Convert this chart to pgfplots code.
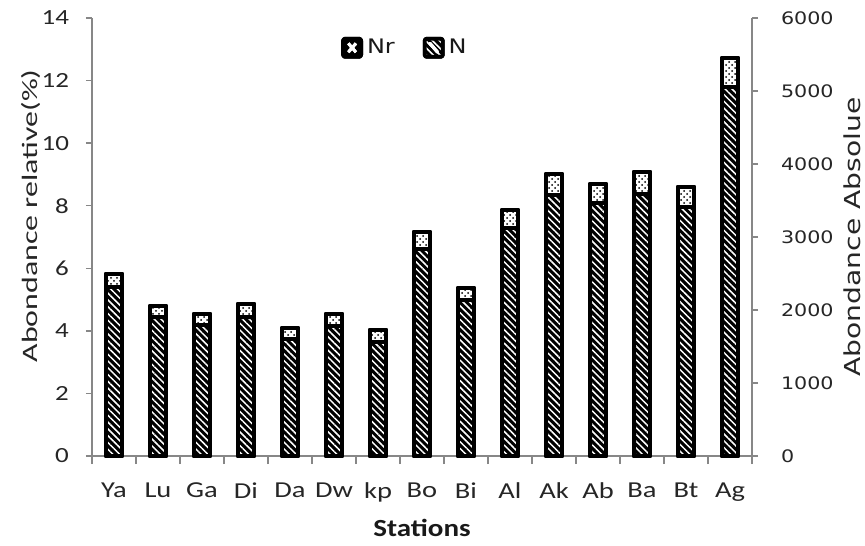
\documentclass[border=0pt]{standalone}
\usepackage{pgfplots}
\usepackage{pgfplotstable}
\pgfplotsset{compat=1.18}
\usetikzlibrary{patterns,patterns.meta}
\usepackage{fontspec}
\setmainfont{Carlito}
\newfontfamily\tickfont{Carlito}[FakeStretch=1.25]
\newfontfamily\rfont{DejaVu Sans}[FakeStretch=1.2]
\newfontfamily\lfont{Carlito}[FakeStretch=1.45]
\newfontfamily\rlfont{DejaVu Sans}[FakeStretch=1.28]
\newfontfamily\bfont{Carlito}[FakeStretch=1.18]
\definecolor{axgray}{RGB}{135,135,135}

\pgfplotstableread{
x N Nr
0 5.40 0.42
1 4.44 0.35
2 4.19 0.35
3 4.44 0.42
4 3.74 0.35
5 4.15 0.39
6 3.64 0.39
7 6.62 0.54
8 4.99 0.38
9 7.29 0.57
10 8.34 0.67
11 8.09 0.60
12 8.37 0.71
13 7.96 0.64
14 11.79 0.93
}\data

\begin{document}
\begin{tikzpicture}
\begin{axis}[
  scale only axis, width=330pt, height=219pt,
  xmin=-0.5, xmax=14.5, ymin=0, ymax=14,
  clip=false,
  axis y line*=left, axis x line*=bottom,
  axis line style={axgray, line width=0.7pt},
  every tick/.style={axgray, line width=0.7pt},
  tick align=outside,
  major tick length=3pt, minor tick length=4pt,
  ybar stacked, bar width=8.3pt,
  xtick={0,...,14},
  xticklabels={Ya,Lu,Ga,Di,Da,Dw,kp,Bo,Bi,Al,Ak,Ab,Ba,Bt,Ag},
  major x tick style={draw=none},
  minor xtick={-0.5,0.5,...,14.5},
  ytick={0,2,...,14},
  /pgf/number format/assume math mode=true,
  xticklabel style={font=\tickfont\fontsize{11.4}{13}\selectfont, text=black!85, yshift=-7pt},
  yticklabel style={font=\tickfont\fontsize{10.8}{12}\selectfont, text=black!85, xshift=-5pt},
  legend style={at={(rel axis cs:0.377,0.932)}, anchor=west, inner sep=0pt, draw=none, fill=none,
    font=\rfont\fontsize{10}{11}\selectfont, text=black!90,
    /tikz/every even column/.append style={column sep=12pt}},
  legend columns=2,
  reverse legend,
]
\addplot[draw=black, line width=1.9pt, line join=round, fill=black,
  postaction={pattern={Lines[angle=-45,distance=2.4pt,line width=0.75pt]}, pattern color=white},
  legend image code/.code={\fill[black, rounded corners=1pt] (0pt,-4.5pt) rectangle (9pt,4.5pt);
     \draw[white, line width=1.6pt, line cap=round] (2.6pt,2.2pt) -- (6.4pt,-2.2pt);}]
  table[x=x, y=N] {\data};
\addlegendentry{N}
\addplot[draw=black, line width=1.9pt, line join=round, fill=white,
  postaction={pattern=crosshatch dots, pattern color=black},
  legend image code/.code={\fill[black, rounded corners=1pt] (0pt,-4.5pt) rectangle (9pt,4.5pt);
     \draw[white, line width=1.5pt] (2.6pt,2.2pt) -- (6.4pt,-2.2pt) (2.6pt,-2.2pt) -- (6.4pt,2.2pt);}]
  table[x=x, y=Nr] {\data};
\addlegendentry{Nr}
\node[rotate=90, font=\lfont\fontsize{11}{13}\selectfont, text=black!85] at ([xshift=-30.5pt]rel axis cs:0,0.548) {Abondance relative(\%)};
\node[font=\bfont\bfseries\fontsize{12.3}{14}\selectfont, text=black!90] at ([yshift=-36pt]rel axis cs:0.5,0) {Stations};
\coordinate (SW) at (rel axis cs:0,0);
\coordinate (NE) at (rel axis cs:1,1);
\end{axis}
\begin{axis}[
  scale only axis, width=330pt, height=219pt,
  xmin=-0.5, xmax=14.5, ymin=0, ymax=6000,
  clip=false,
  axis y line*=right, axis x line=none,
  axis line style={axgray, line width=0.7pt},
  every tick/.style={axgray, line width=0.7pt},
  tick align=outside, major tick length=3pt,
  ytick={0,1000,...,6000},
  /pgf/number format/assume math mode=true,
  /pgf/number format/1000 sep={},
  yticklabel style={font=\rfont\fontsize{8.6}{10}\selectfont, text=black!85, xshift=8pt},
]
\addplot[draw=none] coordinates {(0,0)};
\node[rotate=90, font=\rlfont\fontsize{11}{13}\selectfont, text=black!85] at ([xshift=50pt]rel axis cs:1,0.5) {Abondance Absolue};
\end{axis}
\pgfresetboundingbox
\path ([shift={(-46pt,-44.5pt)}]SW) rectangle ([shift={(56.5pt,9pt)}]NE);
\end{tikzpicture}
\end{document}
